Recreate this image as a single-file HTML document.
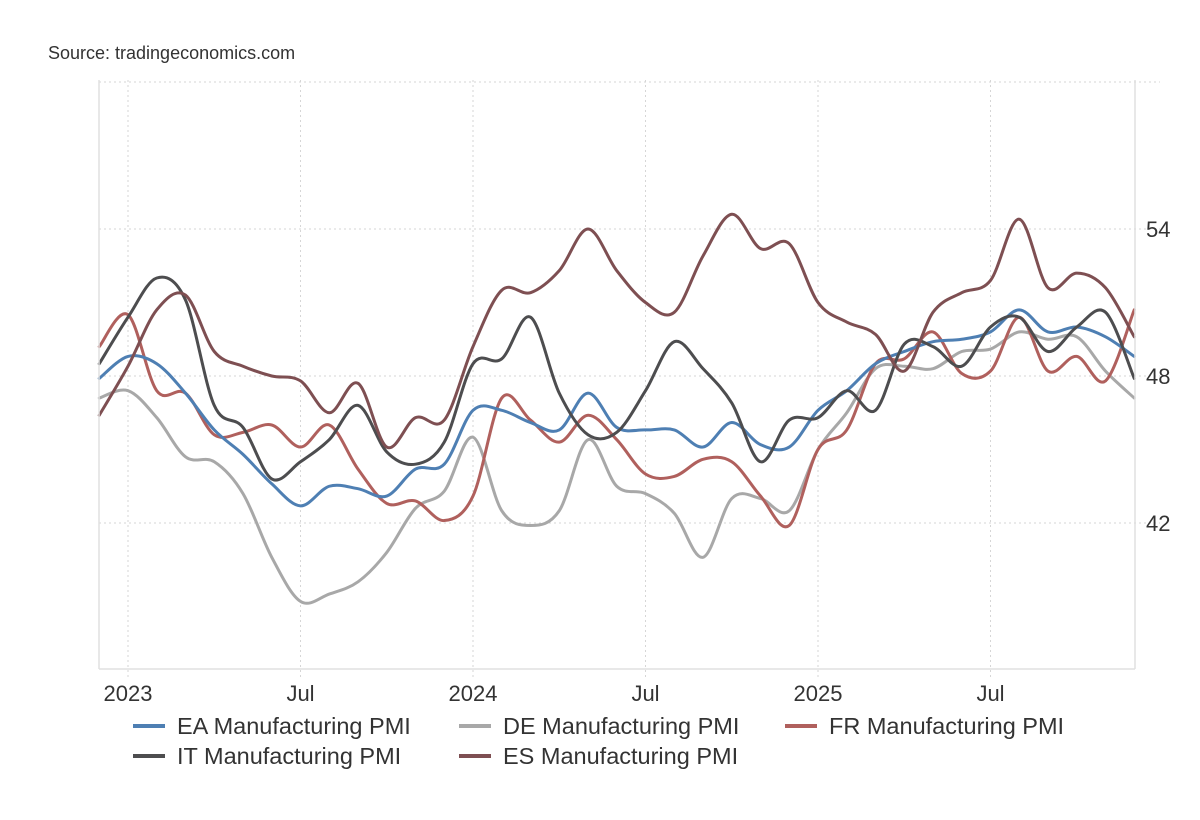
<!DOCTYPE html>
<html><head><meta charset="utf-8">
<style>
html,body{margin:0;padding:0;background:#fff;}
svg{display:block;font-family:"Liberation Sans",Arial,sans-serif;}
</style></head>
<body>
<svg id="chart" width="1200" height="820" viewBox="0 0 1200 820">
<text x="48" y="59" font-size="18" fill="#333">Source: tradingeconomics.com</text>
<g id="grid"></g>
<g id="series"></g>
<g id="axes"></g>
<g id="legend"></g>
</svg>
<script>
const months = ["Dec22","Jan23","Feb23","Mar23","Apr23","May23","Jun23","Jul23","Aug23","Sep23","Oct23","Nov23","Dec23","Jan24","Feb24","Mar24","Apr24","May24","Jun24","Jul24","Aug24","Sep24","Oct24","Nov24","Dec24","Jan25","Feb25","Mar25","Apr25","May25","Jun25","Jul25","Aug25","Sep25","Oct25","Nov25","Dec25"];
const eaValues = [47.9,48.8,48.5,47.3,45.8,44.8,43.6,42.7,43.5,43.4,43.1,44.2,44.4,46.6,46.6,46.1,45.8,47.3,45.9,45.8,45.8,45.1,46.1,45.2,45.1,46.6,47.4,48.5,49.0,49.4,49.5,49.8,50.7,49.8,50.0,49.6,48.8];
const deValues = [47.1,47.4,46.3,44.7,44.5,43.2,40.6,38.8,39.1,39.6,40.8,42.6,43.3,45.5,42.5,41.9,42.5,45.4,43.5,43.2,42.4,40.6,43.0,43.0,42.5,45.0,46.5,48.3,48.4,48.3,49.0,49.1,49.8,49.5,49.6,48.2,47.1];
const frValues = [49.2,50.5,47.4,47.3,45.6,45.7,46.0,45.1,46.0,44.2,42.8,42.9,42.1,43.1,47.1,46.2,45.3,46.4,45.4,44.0,43.9,44.6,44.5,43.1,41.9,45.0,45.8,48.5,48.7,49.8,48.1,48.2,50.4,48.2,48.8,47.8,50.7];
const itValues = [48.5,50.4,52.0,51.1,46.8,45.9,43.8,44.5,45.4,46.8,44.9,44.4,45.3,48.5,48.7,50.4,47.3,45.6,45.7,47.4,49.4,48.3,46.9,44.5,46.2,46.3,47.4,46.6,49.3,49.2,48.4,50.0,50.4,49.0,50.0,50.6,47.9];
const esValues = [46.4,48.4,50.7,51.3,49.0,48.4,48.0,47.8,46.5,47.7,45.1,46.3,46.2,49.2,51.5,51.4,52.3,54.0,52.3,51.0,50.6,52.9,54.6,53.2,53.4,51.0,50.2,49.7,48.2,50.6,51.4,51.9,54.4,51.6,52.2,51.6,49.6];
const yTicks = [42,48,54];
const xTickLabels = ["2023","Jul","2024","Jul","2025","Jul"];
const xTickIndex = [1,7,13,19,25,31];
const seriesNames = ["EA Manufacturing PMI","DE Manufacturing PMI","FR Manufacturing PMI","IT Manufacturing PMI","ES Manufacturing PMI"];

const NS="http://www.w3.org/2000/svg";
const X0=99.25, DX=28.75, Y48=376, PPU=24.5;
function xs(i){return X0+i*DX;}
function ys(v){return Y48-(v-48)*PPU;}
function mk(tag,attrs,parent){const e=document.createElementNS(NS,tag);for(const k in attrs)e.setAttribute(k,attrs[k]);parent.appendChild(e);return e;}

const grid=document.getElementById('grid'), axes=document.getElementById('axes'), ser=document.getElementById('series'), leg=document.getElementById('legend');
yTicks.concat([60]).forEach(v=>{
  const l=mk('line',{x1:99,x2:1160,y1:ys(v),y2:ys(v),stroke:'#d6d6d6','stroke-width':1,'stroke-dasharray':'2,3'},grid);
  
  
});
yTicks.forEach(v=>{
  const t=mk('text',{x:1146,y:ys(v)+8,'font-size':22,fill:'#333'},axes);
  t.textContent=v;
  
  
});
xTickIndex.forEach((m,k)=>{
  const l=mk('line',{x1:xs(m),x2:xs(m),y1:80,y2:680,stroke:'#d6d6d6','stroke-width':1,'stroke-dasharray':'2,3'},grid);
  
  
  const t=mk('text',{x:xs(m),y:701,'font-size':22,fill:'#333','text-anchor':'middle'},axes);
  t.textContent=xTickLabels[k];
  
  
});
[[99,80,99,669],[1135,80,1135,669],[99,669,1135,669]].forEach(a=>{
  const l=mk('line',{x1:a[0],y1:a[1],x2:a[2],y2:a[3],stroke:'#e0e0e0','stroke-width':1.5},axes);
  
  
});

function pathFor(vals){
  const p=vals.map((v,i)=>[xs(i),ys(v)]);
  let d='M'+p[0][0]+','+p[0][1];
  for(let i=0;i<p.length-1;i++){
    const p0=p[Math.max(0,i-1)],p1=p[i],p2=p[i+1],p3=p[Math.min(p.length-1,i+2)];
    const t=1/6;
    const c1=[p1[0]+(p2[0]-p0[0])*t,p1[1]+(p2[1]-p0[1])*t];
    const c2=[p2[0]-(p3[0]-p1[0])*t,p2[1]-(p3[1]-p1[1])*t];
    d+=' C'+c1[0].toFixed(2)+','+c1[1].toFixed(2)+' '+c2[0].toFixed(2)+','+c2[1].toFixed(2)+' '+p2[0].toFixed(2)+','+p2[1].toFixed(2);
  }
  return d;
}
const allSeries=[
  {vals:eaValues,color:'#4e7fb3',name:'ea-line'},
  {vals:deValues,color:'#a8a8a8',name:'de-line'},
  {vals:frValues,color:'#b0605d',name:'fr-line'},
  {vals:itValues,color:'#4d4d4f',name:'it-line'},
  {vals:esValues,color:'#7e4f52',name:'es-line'}
];
const drawOrder=[1,2,0,3,4];
drawOrder.forEach(i=>{
  const s=allSeries[i];
  const p=mk('path',{d:pathFor(s.vals),fill:'none',stroke:s.color,'stroke-width':3,'stroke-linejoin':'round','stroke-linecap':'round'},ser);
  
  
});
const legPos=[[133,726],[459,726],[785,726],[133,756],[459,756]];
seriesNames.forEach((n,i)=>{
  const g=mk('g',{},leg);
  
  
  mk('line',{x1:legPos[i][0],x2:legPos[i][0]+32,y1:legPos[i][1],y2:legPos[i][1],stroke:allSeries[i].color,'stroke-width':4},g);
  const t=mk('text',{x:legPos[i][0]+44,y:legPos[i][1]+8,'font-size':23.5,fill:'#333'},g);
  t.textContent=n;
});
</script>
</body></html>
